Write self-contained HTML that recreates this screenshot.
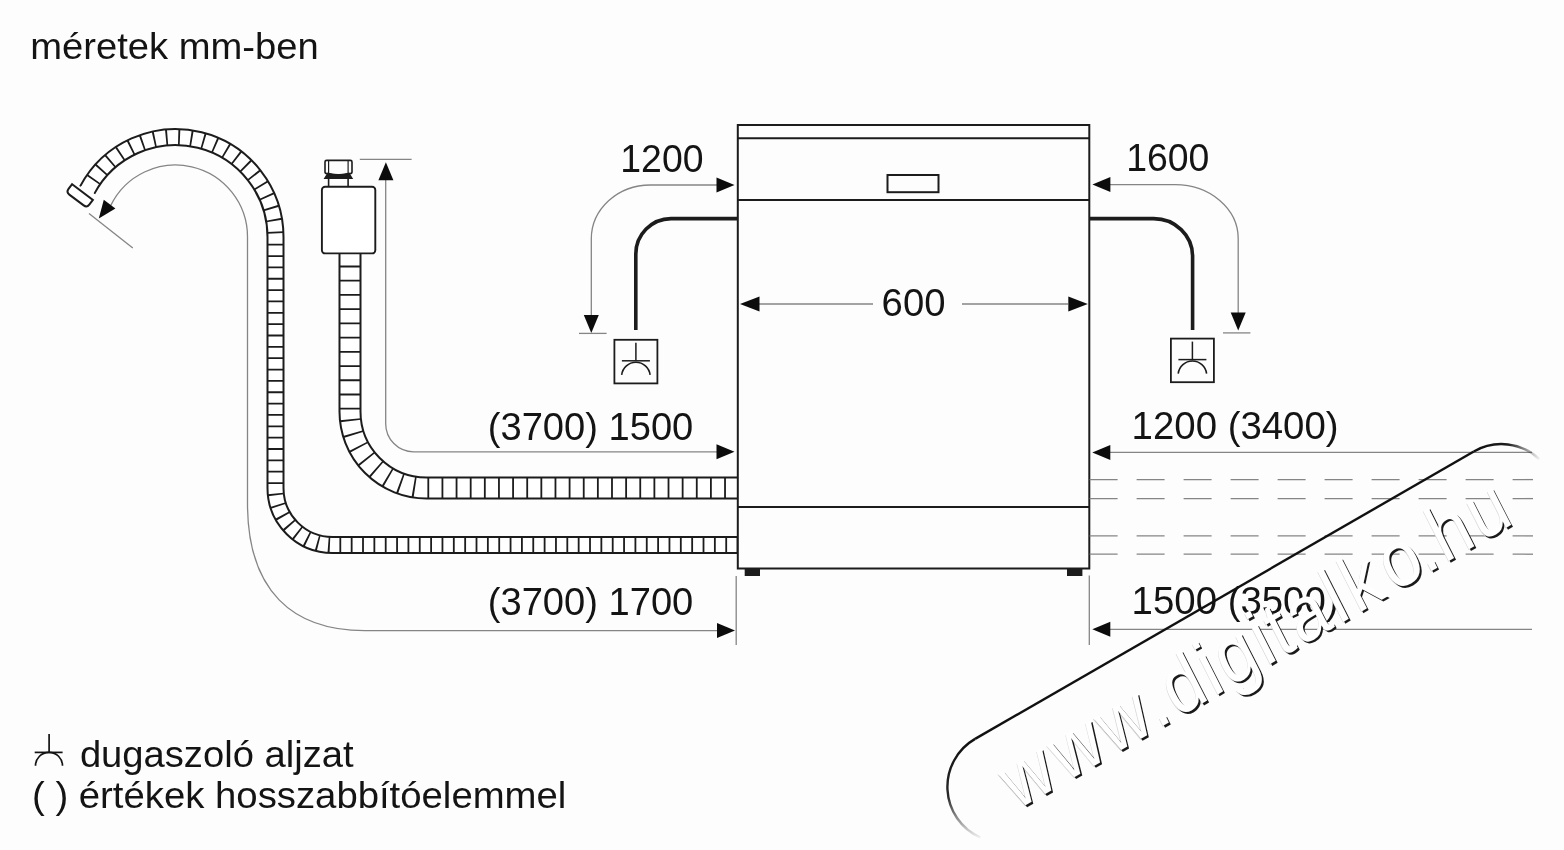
<!DOCTYPE html><html><head><meta charset="utf-8"><style>html,body{margin:0;padding:0;background:#fdfdfd;width:1564px;height:850px;overflow:hidden}svg{display:block;will-change:transform;font-family:"Liberation Sans",sans-serif}</style></head><body><svg width="1564" height="850" viewBox="0 0 1564 850" font-family="Liberation Sans, sans-serif"><defs><filter id="bl" x="-5%" y="-5%" width="110%" height="110%"><feGaussianBlur stdDeviation="0.6"/></filter></defs><rect width="1564" height="850" fill="#fdfdfd"/><path d="M87.2 190.1 A100 100 0 0 1 275.5 237.0 L275.5 488 A57 57 0 0 0 332.5 545 L738 545" fill="none" stroke="#1c1c1c" stroke-width="18"/>
<path d="M87.2 190.1 A100 100 0 0 1 275.5 237.0 L275.5 488 A57 57 0 0 0 332.5 545 L738 545" fill="none" stroke="#fff" stroke-width="14"/>
<line x1="87.58" y1="189.35" x2="86.27" y2="191.82" stroke="#fdfdfd" stroke-width="14.5"/>
<path d="M89.78 185.50 A100 100 0 0 1 275.5 237.0" fill="none" stroke="#1c1c1c" stroke-width="16" stroke-dasharray="1.8 10.6" stroke-dashoffset="-6.3"/>
<path d="M275.5 237.0 L275.5 488 A57 57 0 0 0 332.5 545 L738 545" fill="none" stroke="#1c1c1c" stroke-width="16" stroke-dasharray="1.8 9.55" stroke-dashoffset="-6.8"/>
<g transform="translate(79.5 196) rotate(37)"><path d="M-13 -5 L13 -5 L13 1 Q13 5 9 5 L-9 5 Q-13 5 -13 1 Z" fill="#fff" stroke="#1c1c1c" stroke-width="2"/></g>
<path d="M110.8 205.4 A72 72 0 0 1 247.5 237.0 L247.5 503.5 C247.5 591 292.7 630.6 364.7 630.6 L717 630.6" fill="none" stroke="#858585" stroke-width="1.30" />
<polygon points="98.8,218.5 103.8,199.8 115.4,208.4" fill="#0c0c0c"/>
<polygon points="735.0,630.5 717.0,638.0 717.0,623.0" fill="#0c0c0c"/>
<line x1="89.0" y1="213.6" x2="132.8" y2="248.1" stroke="#858585" stroke-width="1.30" />
<line x1="736.2" y1="576.0" x2="736.2" y2="645.0" stroke="#858585" stroke-width="1.30" />
<path d="M350 253 L350 411 A76.5 76.5 0 0 0 426.5 488 L738 488" fill="none" stroke="#1c1c1c" stroke-width="23"/>
<path d="M350 253 L350 411 A76.5 76.5 0 0 0 426.5 488 L738 488" fill="none" stroke="#fff" stroke-width="19"/>
<path d="M350 253 L350 411" fill="none" stroke="#1c1c1c" stroke-width="21.00" stroke-dasharray="1.80 12.42" stroke-dashoffset="-12.60"/>
<path d="M350 411 A76.5 76.5 0 0 0 426.5 488 L738 488" fill="none" stroke="#1c1c1c" stroke-width="21.00" stroke-dasharray="1.80 12.33" stroke-dashoffset="-8.33"/>
<rect x="321.9" y="186.8" width="53.4" height="66.6" rx="3.2" fill="#fff" stroke="#1c1c1c" stroke-width="1.9"/>
<line x1="328.6" y1="178.5" x2="328.6" y2="187.0" stroke="#1c1c1c" stroke-width="1.60" />
<line x1="348.1" y1="178.5" x2="348.1" y2="187.0" stroke="#1c1c1c" stroke-width="1.60" />
<path d="M323.6 179 L353.2 179 L349.2 172.6 Q338.4 175.8 327.6 172.6 Z" fill="#1c1c1c"/>
<path d="M325 172 L325 162 Q325 160.4 326.6 160.4 L350.4 160.4 Q352 160.4 352 162 L352 172 Q352 173.6 350.2 173.6 Q338.5 176 326.8 173.6 Q325 173.6 325 172 Z" fill="none" stroke="#1c1c1c" stroke-width="1.6"/>
<line x1="328.6" y1="161.0" x2="328.6" y2="173.5" stroke="#1c1c1c" stroke-width="1.20" />
<line x1="348.1" y1="161.0" x2="348.1" y2="173.5" stroke="#1c1c1c" stroke-width="1.20" />
<path d="M385.7 180 L385.7 423.7 A28 28 0 0 0 413.7 451.8 L717 451.8" fill="none" stroke="#858585" stroke-width="1.30" />
<polygon points="385.9,162.3 393.4,180.3 378.4,180.3" fill="#0c0c0c"/>
<polygon points="734.5,451.8 716.5,459.3 716.5,444.3" fill="#0c0c0c"/>
<line x1="359.8" y1="159.3" x2="411.6" y2="159.3" stroke="#858585" stroke-width="1.30" />
<rect x="737.8" y="125" width="351.5" height="443.5" fill="none" stroke="#1c1c1c" stroke-width="2"/>
<line x1="737.8" y1="138.3" x2="1089.3" y2="138.3" stroke="#1c1c1c" stroke-width="2.00" />
<line x1="737.8" y1="200.0" x2="1089.3" y2="200.0" stroke="#1c1c1c" stroke-width="2.00" />
<line x1="737.8" y1="507.0" x2="1089.3" y2="507.0" stroke="#1c1c1c" stroke-width="2.00" />
<rect x="744.7" y="568.5" width="15.3" height="7.5" fill="#1c1c1c"/>
<rect x="1067" y="568.5" width="15.4" height="7.5" fill="#1c1c1c"/>
<rect x="887.5" y="175" width="51" height="17.2" fill="none" stroke="#1c1c1c" stroke-width="2"/>
<path d="M738 218.6 L671 218.6 A35.5 35.5 0 0 0 635.8 254 L635.8 330" fill="none" stroke="#1c1c1c" stroke-width="3.60" />
<path d="M1089 218.6 L1153.6 218.6 A39 37.5 0 0 1 1192.6 256.1 L1192.6 330" fill="none" stroke="#1c1c1c" stroke-width="3.60" />
<rect x="614.4" y="339.8" width="43" height="43.6" fill="none" stroke="#1c1c1c" stroke-width="1.8"/>
<line x1="635.9" y1="342.8" x2="635.9" y2="360.8" stroke="#1c1c1c" stroke-width="1.50" />
<line x1="621.9" y1="360.8" x2="649.9" y2="360.8" stroke="#1c1c1c" stroke-width="1.50" />
<path d="M621.7 374.8 A14.3 14.3 0 0 1 650.1 374.8" fill="none" stroke="#1c1c1c" stroke-width="1.6"/>
<rect x="1170.9" y="338.6" width="43" height="43.6" fill="none" stroke="#1c1c1c" stroke-width="1.8"/>
<line x1="1192.4" y1="341.6" x2="1192.4" y2="359.6" stroke="#1c1c1c" stroke-width="1.50" />
<line x1="1178.4" y1="359.6" x2="1206.4" y2="359.6" stroke="#1c1c1c" stroke-width="1.50" />
<path d="M1178.2 373.6 A14.3 14.3 0 0 1 1206.6 373.6" fill="none" stroke="#1c1c1c" stroke-width="1.6"/>
<path d="M717 185 L650.3 185 A59 54 0 0 0 591.3 239 L591.3 315" fill="none" stroke="#858585" stroke-width="1.30" />
<polygon points="734.5,185.0 716.5,192.5 716.5,177.5" fill="#0c0c0c"/>
<polygon points="591.3,333.0 583.8,315.0 598.8,315.0" fill="#0c0c0c"/>
<line x1="579.0" y1="333.4" x2="606.6" y2="333.4" stroke="#858585" stroke-width="1.30" />
<path d="M1110 184.6 L1175.2 184.6 A63 54 0 0 1 1238.2 238.6 L1238.2 313" fill="none" stroke="#858585" stroke-width="1.30" />
<polygon points="1092.4,184.6 1110.4,177.1 1110.4,192.1" fill="#0c0c0c"/>
<polygon points="1238.2,330.5 1230.7,312.5 1245.7,312.5" fill="#0c0c0c"/>
<line x1="1223.0" y1="332.9" x2="1250.4" y2="332.9" stroke="#858585" stroke-width="1.30" />
<line x1="759.0" y1="304.0" x2="873.0" y2="304.0" stroke="#858585" stroke-width="1.30" />
<line x1="962.0" y1="304.0" x2="1068.0" y2="304.0" stroke="#858585" stroke-width="1.30" />
<polygon points="740.0,304.0 759.5,296.5 759.5,311.5" fill="#0c0c0c"/>
<polygon points="1087.8,304.0 1068.3,311.5 1068.3,296.5" fill="#0c0c0c"/>
<line x1="1110.0" y1="452.4" x2="1532.0" y2="452.4" stroke="#858585" stroke-width="1.30" />
<line x1="1110.0" y1="629.3" x2="1532.0" y2="629.3" stroke="#858585" stroke-width="1.30" />
<polygon points="1092.3,452.4 1110.3,444.9 1110.3,459.9" fill="#0c0c0c"/>
<polygon points="1092.3,629.3 1110.3,621.8 1110.3,636.8" fill="#0c0c0c"/>
<line x1="1089.3" y1="575.5" x2="1089.3" y2="645.0" stroke="#858585" stroke-width="1.30" />
<line x1="1089.6" y1="479.6" x2="1533.0" y2="479.6" stroke="#858585" stroke-width="1.30" stroke-dasharray="28 19"/>
<line x1="1089.6" y1="498.6" x2="1533.0" y2="498.6" stroke="#858585" stroke-width="1.30" stroke-dasharray="28 19"/>
<line x1="1089.6" y1="535.9" x2="1533.0" y2="535.9" stroke="#858585" stroke-width="1.30" stroke-dasharray="28 19"/>
<line x1="1089.6" y1="554.2" x2="1533.0" y2="554.2" stroke="#858585" stroke-width="1.30" stroke-dasharray="28 19"/>
<text x="30.2" y="59.3" font-size="36.5" fill="#141414" textLength="288.5" lengthAdjust="spacingAndGlyphs">méretek mm-ben</text>
<text x="620.3" y="171.5" font-size="38.7" fill="#141414" textLength="83.2" lengthAdjust="spacingAndGlyphs">1200</text>
<text x="1126.2" y="171.0" font-size="38.7" fill="#141414" textLength="83.2" lengthAdjust="spacingAndGlyphs">1600</text>
<text x="881.6" y="316.4" font-size="38.7" fill="#141414" textLength="63.9" lengthAdjust="spacingAndGlyphs">600</text>
<text x="487.8" y="439.5" font-size="38.7" fill="#141414" textLength="205.5" lengthAdjust="spacingAndGlyphs">(3700) 1500</text>
<text x="487.8" y="614.6" font-size="38.7" fill="#141414" textLength="205.5" lengthAdjust="spacingAndGlyphs">(3700) 1700</text>
<text x="1131.6" y="439.3" font-size="38.7" fill="#141414" textLength="207.0" lengthAdjust="spacingAndGlyphs">1200 (3400)</text>
<text x="1131.6" y="613.6" font-size="38.7" fill="#141414" textLength="207.0" lengthAdjust="spacingAndGlyphs">1500 (3500)</text>
<text x="79.9" y="767.0" font-size="36.5" fill="#141414" textLength="273.7" lengthAdjust="spacingAndGlyphs">dugaszoló aljzat</text>
<text x="32.0" y="808.4" font-size="36.5" fill="#141414" textLength="534.3" lengthAdjust="spacingAndGlyphs">( ) értékek hosszabbítóelemmel</text>
<g stroke="#141414" stroke-width="1.7" fill="none"><line x1="49.1" y1="734" x2="49.1" y2="752.4"/><line x1="34.7" y1="752.4" x2="62.6" y2="752.4"/><path d="M35.5 765.8 A13.5 13.5 0 0 1 62.5 765.8"/></g><linearGradient id="g1" gradientUnits="userSpaceOnUse" x1="975.1" y1="738.9" x2="985.3" y2="837.5"><stop offset="0" stop-color="#111"/><stop offset="0.55" stop-color="#111" stop-opacity="0.9"/><stop offset="1" stop-color="#111" stop-opacity="0.05"/></linearGradient>
<linearGradient id="g2" gradientUnits="userSpaceOnUse" x1="1473.8" y1="451.5" x2="1539.3" y2="459.0"><stop offset="0" stop-color="#111"/><stop offset="0.5" stop-color="#111" stop-opacity="0.95"/><stop offset="1" stop-color="#111" stop-opacity="0.05"/></linearGradient>
<path d="M975.1 738.9 L1473.8 451.5" stroke="#111" stroke-width="2.4" fill="none"/>
<path d="M975.1 738.9 A55.4 55.4 0 0 0 980.3 837.5" stroke="url(#g1)" stroke-width="2.4" fill="none"/>
<path d="M1473.8 451.5 A55.4 55.4 0 0 1 1539.3 459.0" stroke="url(#g2)" stroke-width="2.4" fill="none"/>
<g font-size="78"><g transform="translate(-0.30 0.90) translate(1014 812) rotate(-30) skewX(-3)" fill="#d6d6d6" text-anchor="middle"><text transform="translate(28.17 0) scale(0.90 1)">w</text><text transform="translate(84.50 0) scale(0.90 1)">w</text><text transform="translate(138.67 0) scale(0.90 1)">w</text><text transform="translate(175.52 0) scale(0.90 1)">.</text><text transform="translate(208.04 0) scale(0.90 1)">d</text><text transform="translate(238.41 0) scale(0.90 1)">i</text><text transform="translate(268.76 0) scale(0.90 1)">g</text><text transform="translate(299.11 0) scale(0.90 1)">i</text><text transform="translate(318.61 0) scale(0.90 1)">t</text><text transform="translate(351.13 0) scale(0.90 1)">a</text><text transform="translate(383.48 0) scale(0.90 1)">l</text><text transform="translate(414.15 0) scale(0.90 1)">k</text><text transform="translate(458.34 0) scale(0.90 1)">o</text><text transform="translate(485.37 0) scale(0.90 1)">.</text><text transform="translate(516.70 0) scale(0.90 1)">h</text><text transform="translate(559.27 0) scale(0.90 1)">u</text></g><g transform="translate(1.90 1.90) translate(1014 812) rotate(-30) skewX(-3)" fill="#1a1a1a" text-anchor="middle"><text transform="translate(28.17 0) scale(0.90 1)">w</text><text transform="translate(84.50 0) scale(0.90 1)">w</text><text transform="translate(138.67 0) scale(0.90 1)">w</text><text transform="translate(175.52 0) scale(0.90 1)">.</text><text transform="translate(208.04 0) scale(0.90 1)">d</text><text transform="translate(238.41 0) scale(0.90 1)">i</text><text transform="translate(268.76 0) scale(0.90 1)">g</text><text transform="translate(299.11 0) scale(0.90 1)">i</text><text transform="translate(318.61 0) scale(0.90 1)">t</text><text transform="translate(351.13 0) scale(0.90 1)">a</text><text transform="translate(383.48 0) scale(0.90 1)">l</text><text transform="translate(414.15 0) scale(0.90 1)">k</text><text transform="translate(458.34 0) scale(0.90 1)">o</text><text transform="translate(485.37 0) scale(0.90 1)">.</text><text transform="translate(516.70 0) scale(0.90 1)">h</text><text transform="translate(559.27 0) scale(0.90 1)">u</text></g><g transform="translate(0.00 0.00) translate(1014 812) rotate(-30) skewX(-3)" fill="#fff" text-anchor="middle"><text transform="translate(28.17 0) scale(0.90 1)">w</text><text transform="translate(84.50 0) scale(0.90 1)">w</text><text transform="translate(138.67 0) scale(0.90 1)">w</text><text transform="translate(175.52 0) scale(0.90 1)">.</text><text transform="translate(208.04 0) scale(0.90 1)">d</text><text transform="translate(238.41 0) scale(0.90 1)">i</text><text transform="translate(268.76 0) scale(0.90 1)">g</text><text transform="translate(299.11 0) scale(0.90 1)">i</text><text transform="translate(318.61 0) scale(0.90 1)">t</text><text transform="translate(351.13 0) scale(0.90 1)">a</text><text transform="translate(383.48 0) scale(0.90 1)">l</text><text transform="translate(414.15 0) scale(0.90 1)">k</text><text transform="translate(458.34 0) scale(0.90 1)">o</text><text transform="translate(485.37 0) scale(0.90 1)">.</text><text transform="translate(516.70 0) scale(0.90 1)">h</text><text transform="translate(559.27 0) scale(0.90 1)">u</text></g></g></svg></body></html>
